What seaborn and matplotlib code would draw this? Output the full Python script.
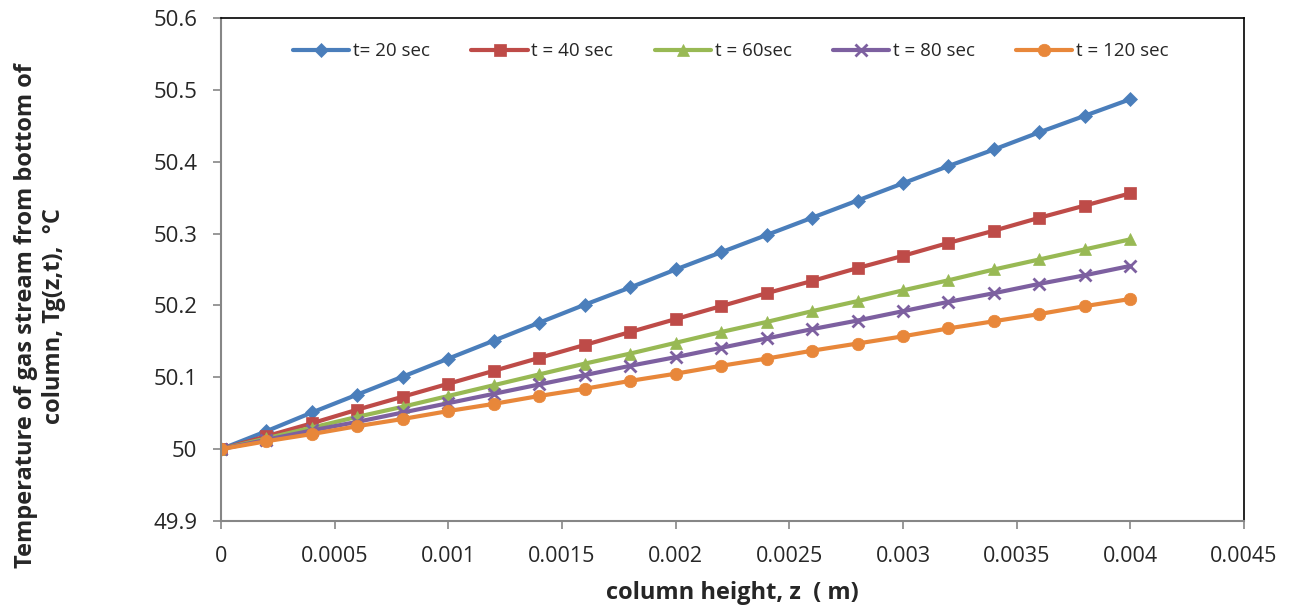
import matplotlib
matplotlib.use("Agg")
import matplotlib.pyplot as plt
import seaborn as sns
import pandas as pd

z = [0, 0.0002, 0.0004, 0.0006, 0.0008, 0.001, 0.0012, 0.0014, 0.0016, 0.0018, 0.002,
     0.0022, 0.0024, 0.0026, 0.0028, 0.003, 0.0032, 0.0034, 0.0036, 0.0038, 0.004]

t20 = [50.0, 50.025, 50.051, 50.076, 50.101, 50.126, 50.151, 50.176, 50.201, 50.225, 50.250,
       50.274, 50.298, 50.322, 50.346, 50.370, 50.394, 50.417, 50.441, 50.464, 50.487]
t40 = [50.0, 50.018, 50.036, 50.055, 50.073, 50.091, 50.109, 50.127, 50.145, 50.163, 50.181,
       50.199, 50.217, 50.234, 50.252, 50.269, 50.287, 50.304, 50.322, 50.339, 50.356]
t60 = [50.0, 50.015, 50.030, 50.045, 50.059, 50.074, 50.089, 50.104, 50.119, 50.133, 50.148,
       50.163, 50.177, 50.192, 50.206, 50.221, 50.235, 50.250, 50.264, 50.278, 50.292]
t80 = [50.0, 50.013, 50.026, 50.038, 50.051, 50.064, 50.077, 50.090, 50.103, 50.116, 50.128,
       50.141, 50.154, 50.167, 50.179, 50.192, 50.205, 50.217, 50.230, 50.242, 50.255]
t120 = [50.0, 50.011, 50.021, 50.032, 50.042, 50.053, 50.063, 50.074, 50.084, 50.095, 50.105,
        50.116, 50.126, 50.137, 50.147, 50.157, 50.168, 50.178, 50.188, 50.199, 50.209]

labels = ["t= 20 sec", "t = 40 sec", "t = 60sec", "t = 80 sec", "t = 120 sec"]
series = [t20, t40, t60, t80, t120]
colors = ["#4A7EBB", "#BE4B48", "#98B954", "#7D60A0", "#E8873A"]
markers = ["D", "s", "^", "x", "o"]
msizes = [7, 9, 9, 9, 9]

rows = []
for lab, vals in zip(labels, series):
    for zz, v in zip(z, vals):
        rows.append({"z": zz, "T": v, "series": lab})
df = pd.DataFrame(rows)

sns.set_theme(style="white")
plt.rcParams["font.family"] = ["Open Sans", "DejaVu Sans"]

fig = plt.figure(figsize=(12.96, 6.14), dpi=100)
ax = fig.add_axes([221/1296, 1-521/614, (1244-221)/1296, (521-18)/614])

for lab, c, m, ms in zip(labels, colors, markers, msizes):
    sub = df[df["series"] == lab]
    sns.lineplot(data=sub, x="z", y="T", ax=ax, color=c, marker=m, markersize=ms,
                 linewidth=3, label=lab, markeredgecolor=c,
                 markeredgewidth=2 if m == "x" else 0.5)

ax.set_xlim(0, 0.0045)
ax.set_ylim(49.9, 50.6)
xt = [0, 0.0005, 0.001, 0.0015, 0.002, 0.0025, 0.003, 0.0035, 0.004, 0.0045]
xtl = ["0", "0.0005", "0.001", "0.0015", "0.002", "0.0025", "0.003", "0.0035", "0.004", "0.0045"]
yt = [49.9, 50.0, 50.1, 50.2, 50.3, 50.4, 50.5, 50.6]
ytl = ["49.9", "50", "50.1", "50.2", "50.3", "50.4", "50.5", "50.6"]
ax.set_xticks(xt)
ax.set_xticklabels(xtl, fontsize=15.5)
ax.set_yticks(yt)
ax.set_yticklabels(ytl, fontsize=16)
ax.tick_params(axis="both", direction="out", length=6, width=1.2, color="#868686",
               left=True, bottom=True)
ax.tick_params(axis="x", pad=12)
ax.tick_params(axis="y", pad=11)

for s in ["left", "bottom"]:
    ax.spines[s].set_color("#868686")
    ax.spines[s].set_linewidth(1.5)
for s in ["top", "right"]:
    ax.spines[s].set_color("black")
    ax.spines[s].set_linewidth(1.2)

ax.set_xlabel("column height, z  ( m)", fontsize=17, fontweight="bold", labelpad=10)
ax.set_ylabel("Temperature of gas stream from bottom of\ncolumn, Tg(z,t),  °C", fontsize=17,
              fontweight="bold", linespacing=1.2)
ax.yaxis.set_label_coords(-0.152, 0.408)

leg = ax.legend(loc="upper center", bbox_to_anchor=(0.4985, 0.985), ncol=5, frameon=False,
                fontsize=13.5, handlelength=3.0, columnspacing=2.2, handletextpad=0.2)

fig.savefig("out.png", dpi=100, facecolor="white")
